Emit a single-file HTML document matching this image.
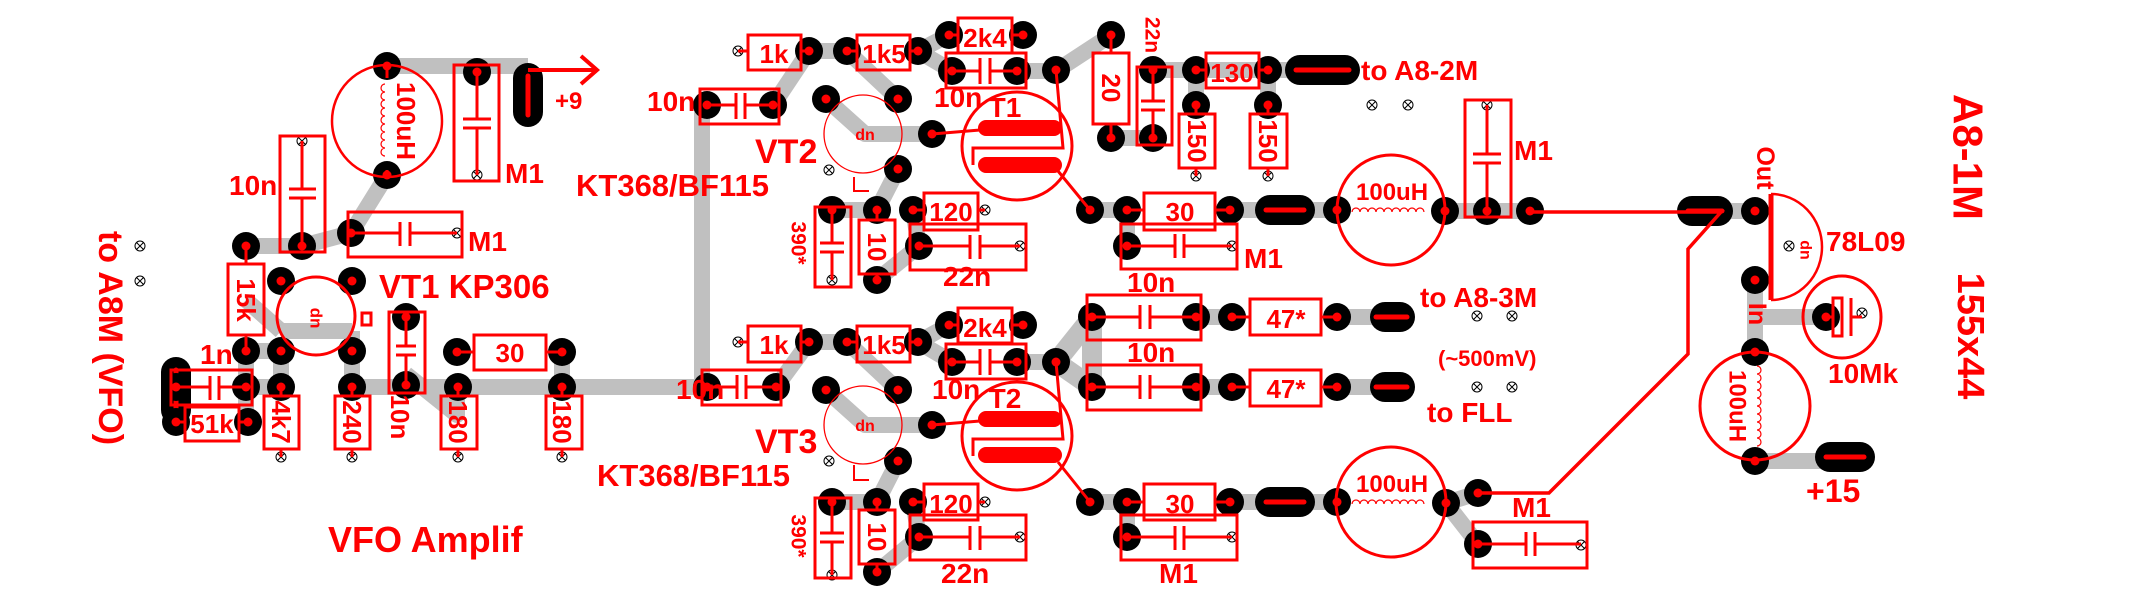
<!DOCTYPE html>
<html><head><meta charset="utf-8"><style>
html,body{margin:0;padding:0;background:#fff}
svg{display:block}
text{font-family:"Liberation Sans",sans-serif;font-weight:bold;fill:#f00}
</style></head><body>
<svg width="2148" height="610" viewBox="0 0 2148 610" xmlns="http://www.w3.org/2000/svg">
<defs>
<g id="p"><circle r="14" fill="#000"/><circle r="4.5" fill="#f00"/></g>
<g id="x"><circle r="5" fill="#fff" stroke="#000" stroke-width="1"/><path d="M-3.5-3.5L3.5 3.5M3.5-3.5L-3.5 3.5" stroke="#000" stroke-width="1"/></g>
</defs>
<rect width="2148" height="610" fill="#fff"/>

<!-- ===== grey traces ===== -->
<g stroke="#c0c0c0" stroke-width="16" fill="none" stroke-linejoin="round">
<path d="M387 66H528"/>
<path d="M387 175L351 233L302 246H246"/>
<path d="M176 372V422M246 351V422M246 351H281M246 387H281M281 351V387M352 331V387M281 331H352M281 331L246 300"/>
<path d="M352 387H458M406 374L457 415V387M562 352V387M458 387H707M702 105V387"/>
<!-- upper stage -->
<path d="M773 105L809 51H847M847 51L898 99M826 99L865 134H932M898 169L877 210H832M918 51L949 35M918 51L952 71M1017 71H1056L1111 35M1111 138H1153M1153 70H1196H1268M1196 70V105M1268 70V105M1268 70H1310"/>
<path d="M877 280L919 246M913 210L919 246M1090 210H1127V246M1230 210H1337M1445 211H1530M1723 211H1755"/>
<!-- lower stage -->
<path d="M776 387L809 342H847M847 342L898 390M826 390L865 425H932M898 461L877 502H832M918 342L949 325M918 342L952 362M1017 362H1056"/>
<path d="M877 572L919 537M913 502L919 537M1090 502H1127V537M1230 502H1337M1446 503L1478 493M1446 503L1478 544"/>
<path d="M1056 362L1092 317M1056 362L1092 387M1092 317V387" stroke-width="20"/>
<path d="M1196 317H1232M1196 387H1232M1337 317H1375M1337 387H1375"/>
<path d="M1755 280V352M1755 317H1826M1755 461H1822"/>
</g>

<!-- ===== oblong pads ===== -->
<g stroke="#000" stroke-width="30" stroke-linecap="round">
<path d="M528 78V112"/><path d="M176 372V410"/>
<path d="M1300 70H1345"/><path d="M1270 210H1300"/><path d="M1270 502H1300"/>
<path d="M1385 317H1400"/><path d="M1385 387H1400"/>
<path d="M1692 211H1718"/><path d="M1830 457H1860"/>
</g>
<g stroke="#f00" stroke-width="5" stroke-linecap="round">
<path d="M528 76V115"/><path d="M176 370V412"/>
<path d="M1296 70H1349"/><path d="M1266 210H1304"/><path d="M1266 502H1304"/>
<path d="M1376 317H1407"/><path d="M1376 387H1407"/>
<path d="M1688 211H1722"/><path d="M1826 457H1864"/>
</g>

<!-- ===== pads ===== -->
<g>
<use href="#p" x="387" y="66"/><use href="#p" x="387" y="175"/><use href="#p" x="477" y="72"/>
<use href="#p" x="302" y="246"/><use href="#p" x="351" y="233"/><use href="#p" x="246" y="246"/><use href="#p" x="246" y="351"/>
<use href="#p" x="281" y="281"/><use href="#p" x="352" y="281"/><use href="#p" x="281" y="351"/><use href="#p" x="352" y="351"/>
<use href="#p" x="176" y="387"/><use href="#p" x="246" y="387"/><use href="#p" x="176" y="422"/><use href="#p" x="248" y="422"/>
<use href="#p" x="281" y="387"/><use href="#p" x="352" y="387"/><use href="#p" x="406" y="317"/><use href="#p" x="406" y="385"/>
<use href="#p" x="457" y="352"/><use href="#p" x="562" y="352"/><use href="#p" x="458" y="387"/><use href="#p" x="562" y="387"/>
<!-- upper -->
<use href="#p" x="707" y="105"/><use href="#p" x="773" y="105"/><use href="#p" x="809" y="51"/><use href="#p" x="847" y="51"/><use href="#p" x="918" y="51"/>
<use href="#p" x="949" y="35"/><use href="#p" x="1023" y="35"/><use href="#p" x="952" y="71"/><use href="#p" x="1017" y="71"/><use href="#p" x="1056" y="70"/>
<use href="#p" x="1111" y="35"/><use href="#p" x="1111" y="138"/><use href="#p" x="1153" y="70"/><use href="#p" x="1153" y="138"/>
<use href="#p" x="1196" y="70"/><use href="#p" x="1268" y="70"/><use href="#p" x="1196" y="105"/><use href="#p" x="1268" y="105"/>
<use href="#p" x="826" y="99"/><use href="#p" x="898" y="99"/><use href="#p" x="932" y="134"/><use href="#p" x="898" y="169"/>
<use href="#p" x="832" y="210"/><use href="#p" x="877" y="210"/><use href="#p" x="877" y="280"/><use href="#p" x="913" y="210"/><use href="#p" x="919" y="246"/>
<use href="#p" x="1090" y="210"/><use href="#p" x="1127" y="210"/><use href="#p" x="1230" y="210"/><use href="#p" x="1127" y="246"/>
<use href="#p" x="1337" y="210"/><use href="#p" x="1445" y="211"/><use href="#p" x="1487" y="211"/><use href="#p" x="1530" y="211"/><use href="#p" x="1755" y="211"/>
<!-- lower -->
<use href="#p" x="707" y="387"/><use href="#p" x="776" y="387"/><use href="#p" x="809" y="342"/><use href="#p" x="847" y="342"/><use href="#p" x="918" y="342"/>
<use href="#p" x="949" y="325"/><use href="#p" x="1023" y="325"/><use href="#p" x="952" y="362"/><use href="#p" x="1017" y="362"/><use href="#p" x="1056" y="362"/>
<use href="#p" x="826" y="390"/><use href="#p" x="898" y="390"/><use href="#p" x="932" y="425"/><use href="#p" x="898" y="461"/>
<use href="#p" x="832" y="502"/><use href="#p" x="877" y="502"/><use href="#p" x="877" y="572"/><use href="#p" x="913" y="502"/><use href="#p" x="919" y="537"/>
<use href="#p" x="1090" y="502"/><use href="#p" x="1127" y="502"/><use href="#p" x="1230" y="502"/><use href="#p" x="1127" y="537"/>
<use href="#p" x="1337" y="502"/><use href="#p" x="1446" y="503"/><use href="#p" x="1478" y="493"/><use href="#p" x="1478" y="544"/>
<use href="#p" x="1092" y="317"/><use href="#p" x="1196" y="317"/><use href="#p" x="1232" y="317"/><use href="#p" x="1337" y="317"/>
<use href="#p" x="1092" y="387"/><use href="#p" x="1196" y="387"/><use href="#p" x="1232" y="387"/><use href="#p" x="1337" y="387"/>
<use href="#p" x="1755" y="280"/><use href="#p" x="1755" y="352"/><use href="#p" x="1755" y="461"/><use href="#p" x="1826" y="317"/>
</g>

<!-- ===== small vias ===== -->
<g>
<use href="#x" x="302" y="141"/><use href="#x" x="477" y="175"/><use href="#x" x="457" y="233"/>
<use href="#x" x="140" y="246"/><use href="#x" x="140" y="281"/>
<use href="#x" x="281" y="457"/><use href="#x" x="352" y="457"/><use href="#x" x="458" y="457"/><use href="#x" x="562" y="457"/>
<use href="#x" x="738" y="51"/><use href="#x" x="738" y="342"/><use href="#x" x="829" y="170"/><use href="#x" x="829" y="461"/>
<use href="#x" x="985" y="210"/><use href="#x" x="1020" y="246"/><use href="#x" x="832" y="280"/><use href="#x" x="1232" y="246"/>
<use href="#x" x="985" y="502"/><use href="#x" x="1020" y="537"/><use href="#x" x="832" y="575"/><use href="#x" x="1232" y="537"/>
<use href="#x" x="1196" y="176"/><use href="#x" x="1268" y="176"/><use href="#x" x="1372" y="105"/><use href="#x" x="1408" y="105"/>
<use href="#x" x="1487" y="105"/><use href="#x" x="1581" y="545"/>
<use href="#x" x="1477" y="316"/><use href="#x" x="1512" y="316"/><use href="#x" x="1477" y="387"/><use href="#x" x="1512" y="387"/>
<use href="#x" x="1789" y="246"/><use href="#x" x="1862" y="313"/>
</g>

<!-- ===== red outlines ===== -->
<g stroke="#f00" stroke-width="3" fill="none">
<ellipse cx="387" cy="121" rx="55" ry="56" stroke-width="2.5"/>
<path d="M387 66V78M387 170V175" stroke-width="3"/>
<path d="M385 84a4 4 0 0 0 0 8a4 4 0 0 0 0 8a4 4 0 0 0 0 8a4 4 0 0 0 0 8a4 4 0 0 0 0 8a4 4 0 0 0 0 8a4 4 0 0 0 0 8a4 4 0 0 0 0 8a4 4 0 0 0 0 8" stroke-width="1.2"/>
<rect x="454" y="65" width="45" height="116"/>
<path d="M477 72V119M463 119H491M463 128H491M477 128V175"/>
<path d="M528 70H597M581 56L597 70L581 84" stroke-width="4"/>
<rect x="280" y="136" width="45" height="116"/>
<path d="M302 141V189M289 189H316M289 198H316M302 198V246"/>
<rect x="348" y="212" width="114" height="45"/>
<path d="M351 233H400M400 222V246M410 222V246M410 233H457"/>
<rect x="228" y="264" width="36" height="71"/><path d="M246 246V264M246 335V351"/>
<circle cx="316" cy="316" r="39"/>
<rect x="362" y="313" width="9" height="12"/>
<rect x="171" y="370" width="81" height="35"/>
<path d="M176 387H210M210 376V400M219 376V400M219 387H246"/>
<rect x="185" y="407" width="54" height="34"/><path d="M176 422H185M239 422H248"/>
<rect x="264" y="396" width="35" height="53"/><path d="M281 387V396M281 449V457"/>
<rect x="335" y="396" width="35" height="53"/><path d="M352 387V396M352 449V457"/>
<rect x="441" y="396" width="36" height="53"/><path d="M458 387V396M458 449V457"/>
<rect x="546" y="396" width="36" height="53"/><path d="M562 387V396M562 449V457"/>
<rect x="389" y="312" width="36" height="81"/>
<path d="M406 317V346M396 346H416M396 355H416M406 355V385"/>
<rect x="474" y="335" width="72" height="35"/><path d="M457 352H474M546 352H562"/>

<rect x="700" y="89" width="79" height="35"/><path d="M707 105H736M736 93V119M745 93V119M745 105H773"/>
<rect x="748" y="35" width="53" height="35"/><path d="M738 51H748M801 51H809"/>
<rect x="857" y="35" width="53" height="35"/><path d="M847 51H857M910 51H918"/>
<rect x="958" y="18" width="54" height="35"/><path d="M949 35H958M1012 35H1023"/>
<rect x="946" y="53" width="80" height="35"/><path d="M952 71H980M980 58V84M990 58V84M990 71H1017"/>
<rect x="1093" y="53" width="36" height="71"/><path d="M1111 35V53M1111 124V138"/>
<rect x="1137" y="67" width="35" height="78"/><path d="M1153 70V101M1141 101H1165M1141 110H1165M1153 110V138"/>
<rect x="1206" y="53" width="53" height="35"/><path d="M1196 70H1206M1259 70H1268"/>
<rect x="1179" y="114" width="36" height="54"/><path d="M1196 105V114M1196 168V176"/>
<rect x="1250" y="114" width="37" height="54"/><path d="M1268 105V114M1268 168V176"/>
<circle cx="863" cy="134" r="39" stroke-width="1.3"/>
<path d="M854 177V191H869" stroke-width="2"/>
<ellipse cx="1017" cy="146" rx="55" ry="54"/>
<path d="M932 134L980 130M1056 70L1063 148H973V165M1058 171L1090 210"/>
<path d="M986 128H1054M986 165H1054" stroke-width="16" stroke-linecap="round"/>
<rect x="924" y="193" width="54" height="37"/><path d="M913 210H924M978 210H985"/>
<rect x="910" y="224" width="116" height="46"/><path d="M919 246H970M970 235V259M980 235V259M980 246H1020"/>
<rect x="815" y="207" width="36" height="80"/><path d="M832 210V243M820 243H844M820 252H844M832 252V280"/>
<rect x="859" y="220" width="36" height="54"/><path d="M877 210V220M877 274V280"/>
<rect x="1144" y="193" width="71" height="37"/><path d="M1127 210H1144M1215 210H1230"/>
<rect x="1121" y="224" width="116" height="45"/><path d="M1127 246H1175M1175 234V258M1184 234V258M1184 246H1232"/>
<ellipse cx="1391" cy="210" rx="54" ry="55"/>
<path d="M1352 212a4 4 0 0 1 8 0a4 4 0 0 1 8 0a4 4 0 0 1 8 0a4 4 0 0 1 8 0a4 4 0 0 1 8 0a4 4 0 0 1 8 0a4 4 0 0 1 8 0a4 4 0 0 1 8 0a4 4 0 0 1 8 0" stroke-width="1.2"/>
<rect x="1465" y="100" width="46" height="117"/><path d="M1487 105V154M1473 154H1501M1473 163H1501M1487 163V211"/>

<rect x="702" y="370" width="79" height="35"/><path d="M707 387H737M737 375V399M746 375V399M746 387H776"/>
<rect x="748" y="326" width="53" height="36"/><path d="M738 342H748M801 342H809"/>
<rect x="857" y="326" width="53" height="36"/><path d="M847 342H857M910 342H918"/>
<rect x="958" y="308" width="54" height="35"/><path d="M949 325H958M1012 325H1023"/>
<rect x="946" y="344" width="80" height="35"/><path d="M952 362H980M980 349V375M990 349V375M990 362H1017"/>
<circle cx="863" cy="425" r="39" stroke-width="1.3"/>
<path d="M854 465V480H869" stroke-width="2"/>
<ellipse cx="1017" cy="436" rx="55" ry="54"/>
<path d="M932 425L980 421M1056 362L1063 439H973V456M1058 462L1090 502"/>
<path d="M986 419H1054M986 455H1054" stroke-width="16" stroke-linecap="round"/>
<rect x="924" y="484" width="54" height="36"/><path d="M913 502H924M978 502H985"/>
<rect x="910" y="515" width="116" height="45"/><path d="M919 537H970M970 526V550M980 526V550M980 537H1020"/>
<rect x="815" y="498" width="36" height="80"/><path d="M832 502V533M820 533H844M820 542H844M832 542V575"/>
<rect x="859" y="510" width="36" height="54"/><path d="M877 502V510M877 564V572"/>
<rect x="1144" y="484" width="71" height="36"/><path d="M1127 502H1144M1215 502H1230"/>
<rect x="1121" y="515" width="116" height="45"/><path d="M1127 537H1175M1175 526V550M1184 526V550M1184 537H1232"/>
<ellipse cx="1391" cy="502" rx="55" ry="55"/>
<path d="M1352 504a4 4 0 0 1 8 0a4 4 0 0 1 8 0a4 4 0 0 1 8 0a4 4 0 0 1 8 0a4 4 0 0 1 8 0a4 4 0 0 1 8 0a4 4 0 0 1 8 0a4 4 0 0 1 8 0a4 4 0 0 1 8 0" stroke-width="1.2"/>
<rect x="1087" y="295" width="114" height="45"/><path d="M1092 317H1140M1140 305V329M1150 305V329M1150 317H1196"/>
<rect x="1087" y="365" width="114" height="45"/><path d="M1092 387H1140M1140 375V399M1150 375V399M1150 387H1196"/>
<rect x="1250" y="299" width="71" height="36"/><path d="M1232 317H1250M1321 317H1337"/>
<rect x="1250" y="370" width="71" height="36"/><path d="M1232 387H1250M1321 387H1337"/>
<rect x="1473" y="522" width="114" height="46"/><path d="M1478 544H1526M1526 532V556M1535 532V556M1535 544H1581"/>

<path d="M1530 212H1721L1688 249V354L1549 493H1478" stroke-width="3.5"/>
<path d="M1771 194V300" stroke-width="5"/>
<path d="M1771 194A51 53 0 0 1 1771 300" stroke-width="2.5"/>
<ellipse cx="1842" cy="317" rx="39" ry="41"/>
<rect x="1833" y="298" width="9" height="38"/><path d="M1826 317H1833M1851 298V336M1851 317H1862"/>
<ellipse cx="1755" cy="406" rx="55" ry="54"/>
<path d="M1757 366a4 4 0 0 1 0 8a4 4 0 0 1 0 8a4 4 0 0 1 0 8a4 4 0 0 1 0 8a4 4 0 0 1 0 8a4 4 0 0 1 0 8a4 4 0 0 1 0 8a4 4 0 0 1 0 8a4 4 0 0 1 0 8a4 4 0 0 1 0 8" stroke-width="1.2"/>
</g>

<!-- ===== labels ===== -->
<g font-size="28">
<text transform="translate(406,121) rotate(90)" text-anchor="middle" dominant-baseline="central" font-size="26">100uH</text>
<text x="505" y="183">M1</text>
<text x="555" y="109" font-size="24">+9</text>
<text x="229" y="195">10n</text>
<text x="468" y="251">M1</text>
<text transform="translate(246,300) rotate(90)" text-anchor="middle" dominant-baseline="central" font-size="26">15k</text>
<text x="379" y="298" font-size="33">VT1 KP306</text>
<text x="200" y="364">1n</text>
<text x="212" y="433" text-anchor="middle" font-size="26">51k</text>
<text transform="translate(281,422) rotate(90)" text-anchor="middle" dominant-baseline="central" font-size="26">4k7</text>
<text transform="translate(352,422) rotate(90)" text-anchor="middle" dominant-baseline="central" font-size="26">240</text>
<text transform="translate(458,422) rotate(90)" text-anchor="middle" dominant-baseline="central" font-size="26">180</text>
<text transform="translate(562,422) rotate(90)" text-anchor="middle" dominant-baseline="central" font-size="26">180</text>
<text transform="translate(400,417) rotate(90)" text-anchor="middle" dominant-baseline="central" font-size="26">10n</text>
<text x="510" y="362" text-anchor="middle" font-size="26">30</text>
<text transform="translate(110,338) rotate(90)" text-anchor="middle" dominant-baseline="central" font-size="34" font-weight="normal">to A8M  (VFO)</text>
<text x="576" y="196" font-size="31">KT368/BF115</text>
<text x="597" y="486" font-size="31">KT368/BF115</text>
<text x="328" y="552" font-size="36">VFO Amplif</text>

<text x="647" y="111">10n</text>
<text x="774" y="63" text-anchor="middle" font-size="26">1k</text>
<text x="884" y="63" text-anchor="middle" font-size="26">1k5</text>
<text x="985" y="47" text-anchor="middle" font-size="26">2k4</text>
<text x="934" y="107">10n</text>
<text transform="translate(1111,88) rotate(90)" text-anchor="middle" dominant-baseline="central" font-size="26">20</text>
<text transform="translate(1152,35) rotate(90)" text-anchor="middle" dominant-baseline="central" font-size="21">22n</text>
<text x="1232" y="82" text-anchor="middle" font-size="26">130</text>
<text transform="translate(1197,141) rotate(90)" text-anchor="middle" dominant-baseline="central" font-size="26">150</text>
<text transform="translate(1268,141) rotate(90)" text-anchor="middle" dominant-baseline="central" font-size="26">150</text>
<text x="1361" y="80" font-size="28">to A8-2M</text>
<text x="1005" y="117" text-anchor="middle" font-size="28">T1</text>
<text x="755" y="163" font-size="34">VT2</text>
<text x="951" y="221" text-anchor="middle" font-size="26">120</text>
<text x="943" y="286">22n</text>
<text transform="translate(798,243) rotate(90)" text-anchor="middle" dominant-baseline="central" font-size="21">390*</text>
<text transform="translate(877,247) rotate(90)" text-anchor="middle" dominant-baseline="central" font-size="26">10</text>
<text x="1180" y="221" text-anchor="middle" font-size="26">30</text>
<text x="1244" y="268">M1</text>
<text x="1127" y="292">10n</text>
<text x="1356" y="200" font-size="24">100uH</text>
<text x="1514" y="160">M1</text>

<text x="676" y="399">10n</text>
<text x="774" y="354" text-anchor="middle" font-size="26">1k</text>
<text x="884" y="354" text-anchor="middle" font-size="26">1k5</text>
<text x="985" y="337" text-anchor="middle" font-size="26">2k4</text>
<text x="932" y="399">10n</text>
<text x="1005" y="408" text-anchor="middle" font-size="28">T2</text>
<text x="755" y="453" font-size="34">VT3</text>
<text x="951" y="513" text-anchor="middle" font-size="26">120</text>
<text x="941" y="583">22n</text>
<text transform="translate(798,536) rotate(90)" text-anchor="middle" dominant-baseline="central" font-size="21">390*</text>
<text transform="translate(877,537) rotate(90)" text-anchor="middle" dominant-baseline="central" font-size="26">10</text>
<text x="1180" y="513" text-anchor="middle" font-size="26">30</text>
<text x="1159" y="583">M1</text>
<text x="1356" y="492" font-size="24">100uH</text>
<text x="1127" y="362">10n</text>
<text x="1286" y="328" text-anchor="middle" font-size="26">47*</text>
<text x="1286" y="398" text-anchor="middle" font-size="26">47*</text>
<text x="1420" y="307" font-size="28">to A8-3M</text>
<text x="1438" y="366" font-size="22">(~500mV)</text>
<text x="1427" y="422" font-size="28">to FLL</text>
<text x="1512" y="517">M1</text>

<text transform="translate(1765,168) rotate(90)" text-anchor="middle" dominant-baseline="central" font-size="25">Out</text>
<text transform="translate(1757,314) rotate(90)" text-anchor="middle" dominant-baseline="central" font-size="25">In</text>
<text x="1826" y="251">78L09</text>
<text x="1828" y="383">10Mk</text>
<text transform="translate(1737,406) rotate(90)" text-anchor="middle" dominant-baseline="central" font-size="24">100uH</text>
<text x="1806" y="502" font-size="32">+15</text>
<text transform="translate(1968,157) rotate(90)" text-anchor="middle" dominant-baseline="central" font-size="42">A8-1M</text>
<text transform="translate(1970,336) rotate(90)" text-anchor="middle" dominant-baseline="central" font-size="38">155x44</text>
</g>
<g font-size="14" font-weight="normal">
<text transform="translate(316,318) rotate(90)" text-anchor="middle" dominant-baseline="central" font-size="17" font-weight="bold">dn</text>
<text x="865" y="140" text-anchor="middle" font-size="16">dn</text>
<text x="865" y="431" text-anchor="middle" font-size="16">dn</text>
<text transform="translate(1805,250) rotate(90)" text-anchor="middle" dominant-baseline="central" font-size="16">dn</text>
</g>
</svg>
</body></html>
